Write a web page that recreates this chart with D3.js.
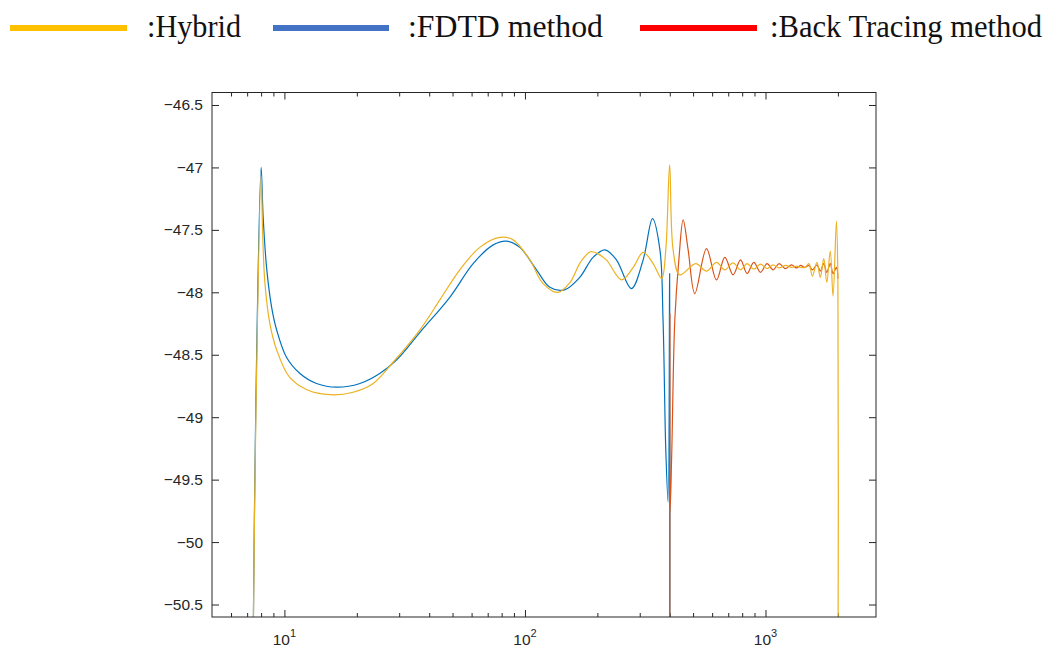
<!DOCTYPE html>
<html><head><meta charset="utf-8">
<script src="https://cdn.jsdelivr.net/npm/d3@7"></script>
<style>body{margin:0;background:#fff;} svg{display:block;}</style>
</head><body>
<svg id="chart" width="1048" height="650"></svg>
<script>
// ---- data ----
const fdtdFreq = [7.4, 7.6, 8.0, 8.16, 8.43, 8.85, 9.28, 10.2, 11.6, 13.6, 16.5, 20.6, 24.9, 29.3, 36.6, 48.7, 60.9, 73.8, 83.8, 95.2, 111.7, 126.9, 146, 169, 192, 215, 240, 277, 310, 339, 364, 375, 385, 393.7, 399.5, 400];
const fdtdVal  = [-51.0, -48.95, -47.0, -47.40, -47.80, -48.12, -48.30, -48.52, -48.65, -48.73, -48.76, -48.73, -48.65, -48.54, -48.32, -48.04, -47.77, -47.62, -47.59, -47.64, -47.82, -47.96, -47.98, -47.88, -47.72, -47.66, -47.74, -47.97, -47.74, -47.41, -47.66, -48.22, -49.26, -49.68, -47.85, -51.5];

const hybridFreq = [7.4, 7.6, 8.0, 8.12, 8.30, 8.70, 9.28, 10.5, 12.4, 15.5, 19.3, 23.4, 28.3, 36.6, 44.3, 53.6, 64.9, 78.6, 89.3, 104.8, 119, 137, 154, 170, 187, 200, 218, 252, 282, 310, 341, 370, 385, 399.5, 413, 440, 513, 568, 626, 677, 733, 787, 839, 894, 953, 1015, 1075, 1139, 1211, 1283, 1345, 1400, 1460, 1516, 1566, 1636, 1690, 1747, 1798, 1859, 1909, 1972, 2000, 2001];
const hybridVal  = [-51.0, -49.05, -47.07, -47.53, -47.93, -48.25, -48.46, -48.68, -48.78, -48.82, -48.80, -48.73, -48.56, -48.30, -48.06, -47.82, -47.64, -47.56, -47.58, -47.74, -47.93, -48.00, -47.92, -47.76, -47.675, -47.69, -47.74, -47.90, -47.80, -47.68, -47.77, -47.89, -47.66, -46.98, -47.66, -47.86, -47.77, -47.83, -47.76, -47.82, -47.765, -47.82, -47.77, -47.815, -47.775, -47.81, -47.78, -47.805, -47.785, -47.80, -47.79, -47.80, -47.80, -47.77, -47.87, -47.76, -47.88, -47.73, -47.92, -47.67, -48.03, -47.43, -47.92, -51.5];

const backFreq = [400.2, 400.5, 401.4, 407.9, 419.8, 436.3, 454.6, 476.9, 508.3, 568.6, 625.6, 677.5, 733.4, 787.3, 838.6, 894.2, 953.3, 1015, 1075, 1139, 1211, 1283, 1345, 1400, 1460, 1516, 1566, 1636, 1690, 1747, 1798, 1859, 1909, 1972, 2000];
const backVal  = [-51.5, -48.17, -49.75, -49.26, -48.22, -47.74, -47.42, -47.66, -48.01, -47.65, -47.90, -47.72, -47.86, -47.74, -47.85, -47.76, -47.84, -47.77, -47.82, -47.77, -47.81, -47.78, -47.805, -47.785, -47.80, -47.785, -47.82, -47.78, -47.83, -47.77, -47.84, -47.77, -47.85, -47.80, -47.89];

const legendLabels = [":Hybrid", ":FDTD method", ":Back Tracing method"];
const yTicks = [-50.5, -50, -49.5, -49, -48.5, -48, -47.5, -47, -46.5];
const xMajorTicks = [10, 100, 1000];
const xMajorExp = ["1", "2", "3"];
const xMinorTicks = [6, 7, 8, 9, 20, 30, 40, 50, 60, 70, 80, 90, 200, 300, 400, 500, 600, 700, 800, 900, 2000];

// ---- drawing ----
const svg = d3.select("#chart");
const L = 212, R = 876, T = 92.5, B = 617;
const x = d3.scaleLog().domain([5, 2880]).range([L, R]);
const y = d3.scaleLinear().domain([-50.6, -46.4]).range([B, T]);
const axisColor = "#262626";
const tickFont = "'Liberation Sans', Arial, sans-serif";

svg.append("rect").attr("width", 1048).attr("height", 650).attr("fill", "#fff");

svg.append("defs").append("clipPath").attr("id", "clip")
  .append("rect").attr("x", L).attr("y", T).attr("width", R - L).attr("height", B - T);

function styleAxis(g) {
  g.select(".domain").remove();
  g.selectAll("line").attr("stroke", axisColor).attr("stroke-width", 1);
  g.selectAll("text").attr("fill", axisColor).style("font-family", tickFont).style("font-size", "15.5px");
}
svg.append("g").attr("transform", `translate(${L},0)`)
  .call(d3.axisLeft(y).tickValues(yTicks).tickSize(-7).tickPadding(9).tickFormat(d3.format("~g")))
  .call(styleAxis);
svg.append("g").attr("transform", `translate(${R},0)`)
  .call(d3.axisRight(y).tickValues(yTicks).tickSize(-7).tickFormat(""))
  .call(styleAxis);
svg.append("g").attr("transform", `translate(0,${B})`)
  .call(d3.axisBottom(x).tickValues(xMajorTicks).tickSize(-7).tickFormat(""))
  .call(styleAxis);
svg.append("g").attr("transform", `translate(0,${B})`)
  .call(d3.axisBottom(x).tickValues(xMinorTicks).tickSize(-4).tickFormat(""))
  .call(styleAxis);
svg.append("g").attr("transform", `translate(0,${T})`)
  .call(d3.axisTop(x).tickValues(xMajorTicks).tickSize(-7).tickFormat(""))
  .call(styleAxis);
svg.append("g").attr("transform", `translate(0,${T})`)
  .call(d3.axisTop(x).tickValues(xMinorTicks).tickSize(-4).tickFormat(""))
  .call(styleAxis);

const xl = svg.append("g").selectAll("text").data(xMajorTicks).join("text")
  .attr("x", d => x(d)).attr("y", 645)
  .attr("text-anchor", "middle")
  .attr("fill", axisColor)
  .style("font-family", tickFont).style("font-size", "15.5px");
xl.append("tspan").text("10");
xl.append("tspan").attr("dy", -8).style("font-size", "11px").text((d, i) => xMajorExp[i]);

const line = d3.line().x(d => x(d[0])).y(d => y(d[1])).curve(d3.curveCatmullRom.alpha(0.5));
const plot = svg.append("g").attr("clip-path", "url(#clip)");
const series = [
  {f: fdtdFreq, v: fdtdVal, c: "#0072BD"},
  {f: backFreq, v: backVal, c: "#D95319"},
  {f: hybridFreq, v: hybridVal, c: "#EDB120"}
];
series.forEach(s => {
  plot.append("path").datum(d3.zip(s.f, s.v))
    .attr("d", line).attr("fill", "none")
    .attr("stroke", s.c).attr("stroke-width", 1.2).attr("stroke-linejoin", "round");
});

svg.append("rect").attr("x", L).attr("y", T).attr("width", R - L).attr("height", B - T)
  .attr("fill", "none").attr("stroke", axisColor).attr("stroke-width", 1);

const legendColors = ["#FFC000", "#4472C4", "#FF0000"];
const legendLineX = [[10, 127], [273, 389], [640, 757]];
const legendTextX = [147, 408, 770];
const legendTextW = [94, 195, 272];
const lg = svg.append("g");
legendLabels.forEach((lab, i) => {
  lg.append("line").attr("x1", legendLineX[i][0]).attr("x2", legendLineX[i][1])
    .attr("y1", 28).attr("y2", 28).attr("stroke", legendColors[i]).attr("stroke-width", 6);
  lg.append("text").attr("x", legendTextX[i]).attr("y", 37)
    .attr("textLength", legendTextW[i]).attr("lengthAdjust", "spacingAndGlyphs")
    .style("font-family", "'Liberation Serif', 'DejaVu Serif', serif").style("font-size", "31px")
    .attr("fill", "#111").text(lab);
});
</script>
</body></html>
